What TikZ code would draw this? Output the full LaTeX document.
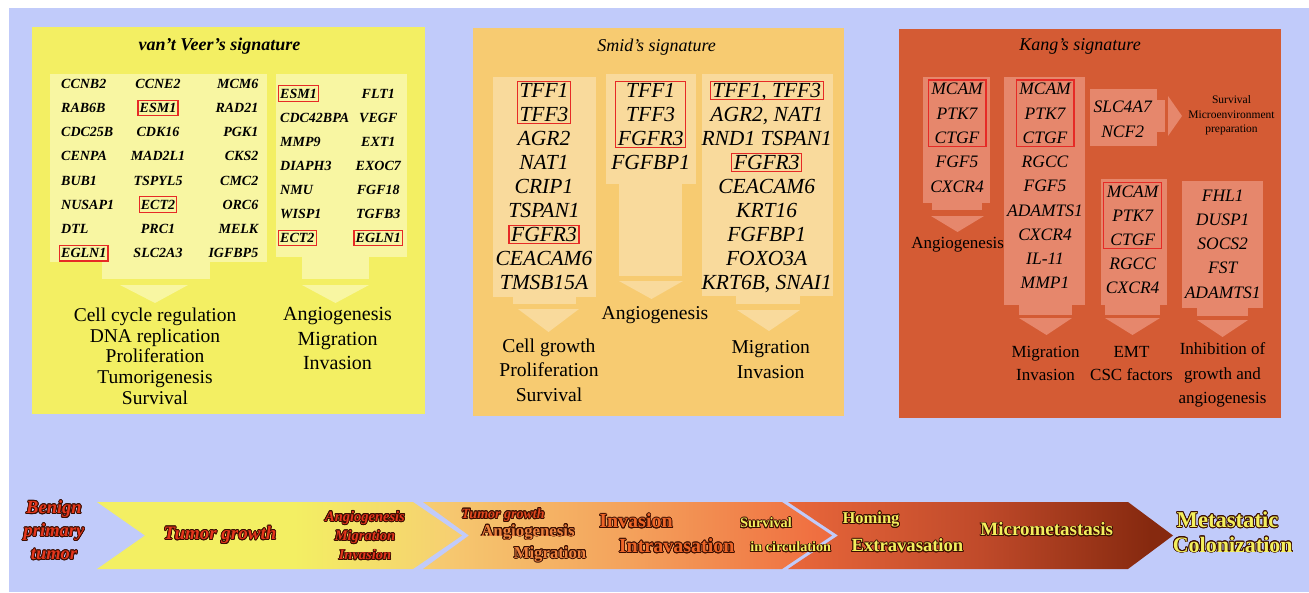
\documentclass[tikz,border=0pt]{standalone}
\usepackage{fontspec}
\setmainfont{Liberation Serif}
\usepackage{contour}
\usetikzlibrary{fit,positioning}
\contourlength{0.8pt}
\definecolor{bgblue}{HTML}{C1CBFA}
\definecolor{vvpanel}{HTML}{F3EF63}
\definecolor{vvpale}{HTML}{F8F6A2}
\definecolor{smpanel}{HTML}{F7CB71}
\definecolor{smpale}{HTML}{F9DA9C}
\definecolor{kapanel}{HTML}{D45B34}
\definecolor{kapale}{HTML}{E6876C}
\definecolor{boxred}{HTML}{E62A26}
\definecolor{tred}{HTML}{E5361C}
\definecolor{tsmall}{HTML}{E2481E}
\definecolor{torg}{HTML}{EF8440}
\definecolor{tinv}{HTML}{EE6628}
\definecolor{tyel}{HTML}{F3EF5C}
\definecolor{tdark}{HTML}{3A0E02}
\definecolor{sgA}{HTML}{F3EF63}
\definecolor{sgB}{HTML}{F6CD72}
\definecolor{sgC}{HTML}{F4A25C}
\definecolor{sgD}{HTML}{EF6B3E}
\definecolor{sgE}{HTML}{E9673B}
\definecolor{sgF}{HTML}{C04A2A}
\definecolor{sgG}{HTML}{86290F}
\pgfdeclarehorizontalshading{segone}{100bp}{color(0bp)=(sgA); color(25bp)=(sgA); color(52bp)=(sgA); color(75bp)=(sgB); color(100bp)=(sgB)}
\pgfdeclarehorizontalshading{segtwo}{100bp}{color(0bp)=(sgB); color(25bp)=(sgB); color(50bp)=(sgC); color(75bp)=(sgD); color(100bp)=(sgD)}
\pgfdeclarehorizontalshading{segthree}{100bp}{color(0bp)=(sgE); color(25bp)=(sgE); color(50bp)=(sgF); color(72bp)=(sgG); color(100bp)=(sgG)}
\newcommand{\redlbl}[1]{\textcolor{tred}{\contour{tdark}{#1}}}
\newcommand{\smalllbl}[1]{\textcolor{tsmall}{\contour{tdark}{#1}}}
\newcommand{\orglbl}[1]{\textcolor{torg}{\contour{tdark}{#1}}}
\newcommand{\invlbl}[1]{\textcolor{tinv}{\contour{tdark}{#1}}}
\newcommand{\yellbl}[1]{\textcolor{tyel}{\contour{tdark}{#1}}}

\begin{document}
\begin{tikzpicture}[x=1pt,y=-1pt,
  vvgene/.style={font=\fontsize{14}{14}\selectfont\bfseries\itshape, inner sep=0pt, text height=9.3pt, text depth=0pt},
  smgene/.style={font=\fontsize{21.5}{21.5}\selectfont\itshape, inner sep=0pt, text height=14.2pt, text depth=0pt},
  kagene/.style={font=\fontsize{17.5}{17.5}\selectfont\itshape, inner sep=0pt, text height=11.6pt, text depth=0pt},
  redbox/.style={draw=boxred, line width=1.1pt, inner xsep=2pt, inner ysep=3pt},
  title/.style={font=\fontsize{18}{18}\selectfont\itshape, inner sep=0pt},
  fun/.style={align=center, anchor=north, inner sep=0pt},
  band/.style={inner sep=0pt}]
\useasboundingbox (0,0) rectangle (1309,592);
% Background
\fill[white] (0,0) rectangle (1309,592);
\fill[bgblue] (9,8) rectangle (1309,592);
% Panels
\fill[vvpanel] (32,27) rectangle (425,414);
\fill[smpanel] (473,28) rectangle (844,416);
\fill[kapanel] (899,29) rectangle (1281,418);
% van't Veer boxes and arrows
\fill[vvpale] (50,74) rectangle (267,262);
\fill[vvpale] (102,262) rectangle (210,279);
\fill[vvpale] (120,285) -- (188,285) -- (155,303) -- cycle;
\fill[vvpale] (276,74) rectangle (407,257);
\fill[vvpale] (302,257) rectangle (369,279);
\fill[vvpale] (302,285) -- (369,285) -- (335.5,303) -- cycle;
% Smid boxes and arrows
\fill[smpale] (493,77) rectangle (596,297);
\fill[smpale] (513,297) rectangle (576,304);
\fill[smpale] (518,309) -- (579,309) -- (548.5,332) -- cycle;
\fill[smpale] (606,74) rectangle (696,184);
\fill[smpale] (619,184) rectangle (682,276);
\fill[smpale] (619,281) -- (683,281) -- (651.5,299) -- cycle;
\fill[smpale] (702,74) rectangle (833,296);
\fill[smpale] (736,296) rectangle (800,304);
\fill[smpale] (737,310) -- (800,310) -- (769,331) -- cycle;
% Kang boxes and arrows
\fill[kapale] (923,77) rectangle (990,203);
\fill[kapale] (932,203) rectangle (982,210);
\fill[kapale] (931,216) -- (984,216) -- (957.5,232) -- cycle;
\fill[kapale] (1004,77) rectangle (1085,305);
\fill[kapale] (1019,305) rectangle (1072,315);
\fill[kapale] (1019,318) -- (1072,318) -- (1046.5,335) -- cycle;
\fill[kapale] (1090,89) rectangle (1157,146);
\fill[kapale] (1157,100) rectangle (1165,132);
\fill[kapale] (1168,96) -- (1168,136) -- (1182,116) -- cycle;
\fill[kapale] (1101,179) rectangle (1167,305);
\fill[kapale] (1105,305) rectangle (1160,315);
\fill[kapale] (1105,318) -- (1160,318) -- (1132.5,335) -- cycle;
\fill[kapale] (1182,181) rectangle (1263,308);
\fill[kapale] (1197,308) rectangle (1248,316);
\fill[kapale] (1197,320) -- (1248,320) -- (1222.5,337) -- cycle;
% Titles
\node[title, font=\fontsize{18}{18}\selectfont\bfseries\itshape] (vvtitle) at (219.5,46) {van’t Veer’s signature};
\node[title] (smtitle) at (656.7,46.7) {Smid’s signature};
\node[title] (katitle) at (1080,46) {Kang’s signature};
% van't Veer genes
\foreach \g [count=\i from 0] in {CCNB2,RAB6B,CDC25B,CENPA,BUB1,NUSAP1,DTL,EGLN1}
  \node[vvgene, anchor=west] (va\i) at (61,{83.7+24.2*\i}) {\g};
\foreach \g [count=\i from 0] in {CCNE2,ESM1,CDK16,MAD2L1,TSPYL5,ECT2,PRC1,SLC2A3}
  \node[vvgene] (vb\i) at (158,{83.7+24.2*\i}) {\g};
\foreach \g [count=\i from 0] in {MCM6,RAD21,PGK1,CKS2,CMC2,ORC6,MELK,IGFBP5}
  \node[vvgene, anchor=east] (vc\i) at (258.5,{83.7+24.2*\i}) {\g};
\foreach \g [count=\i from 0] in {ESM1,CDC42BPA,MMP9,DIAPH3,NMU,WISP1,ECT2}
  \node[vvgene, anchor=west] (vd\i) at (280,{93.7+24.05*\i}) {\g};
\foreach \g [count=\i from 0] in {FLT1,VEGF,EXT1,EXOC7,FGF18,TGFB3,EGLN1}
  \node[vvgene] (ve\i) at (378.3,{93.7+24.05*\i}) {\g};
% Smid genes
\foreach \g [count=\i from 0] in {TFF1,TFF3,AGR2,NAT1,CRIP1,TSPAN1,FGFR3,CEACAM6,TMSB15A}
  \node[smgene] (sa\i) at (544,{90.5+24*\i}) {\g};
\foreach \g [count=\i from 0] in {TFF1,TFF3,FGFR3,FGFBP1}
  \node[smgene] (sb\i) at (650.7,{90.5+24*\i}) {\g};
\foreach \g [count=\i from 0] in {{TFF1, TFF3},{AGR2, NAT1},RND1 TSPAN1,FGFR3,CEACAM6,KRT16,FGFBP1,FOXO3A,{KRT6B, SNAI1}}
  \node[smgene] (sc\i) at (766.7,{90.5+24*\i}) {\g};
% Kang genes
\foreach \g [count=\i from 0] in {MCAM,PTK7,CTGF,FGF5,CXCR4}
  \node[kagene] (ka\i) at (957,{89+24.3*\i}) {\g};
\foreach \g [count=\i from 0] in {MCAM,PTK7,CTGF,RGCC,FGF5,ADAMTS1,CXCR4,IL-11,MMP1}
  \node[kagene] (kb\i) at (1045,{89+24.25*\i}) {\g};
\foreach \g [count=\i from 0] in {SLC4A7,NCF2}
  \node[kagene] (kc\i) at (1122.7,{106.2+25*\i}) {\g};
\foreach \g [count=\i from 0] in {MCAM,PTK7,CTGF,RGCC,CXCR4}
  \node[kagene] (kd\i) at (1132.7,{191.7+24.1*\i}) {\g};
\foreach \g [count=\i from 0] in {FHL1,DUSP1,SOCS2,FST,ADAMTS1}
  \node[kagene] (ke\i) at (1222.7,{195.8+24.1*\i}) {\g};
% Red frames
\node[redbox, inner xsep=1.5pt] (rva7) [fit=(va7)] {};
\node[redbox, inner xsep=1.5pt] (rvb1) [fit=(vb1)] {};
\node[redbox, inner xsep=1.5pt] (rvb5) [fit=(vb5)] {};
\node[redbox, inner xsep=1.5pt] (rvd0) [fit=(vd0)] {};
\node[redbox, inner xsep=1.5pt] (rvd6) [fit=(vd6)] {};
\node[redbox, inner xsep=1.5pt] (rve6) [fit=(ve6)] {};
\node[redbox, inner ysep=2pt] (rsa0) [fit=(sa0)(sa1)] {};
\node[redbox, inner ysep=2pt] (rsa6) [fit=(sa6)] {};
\node[redbox, inner ysep=2pt] (rsb0) [fit=(sb0)(sb2)] {};
\node[redbox, inner ysep=2pt] (rsc0) [fit=(sc0)] {};
\node[redbox, inner ysep=2pt] (rsc3) [fit=(sc3)] {};
\node[redbox, inner xsep=3pt] (rka0) [fit=(ka0)(ka2)] {};
\node[redbox, inner xsep=3pt] (rkb0) [fit=(kb0)(kb2)] {};
\node[redbox, inner xsep=3pt] (rkd0) [fit=(kd0)(kd2)] {};
% Functions
\node[fun, font=\fontsize{19.5}{20.75}\selectfont] (vvfa) at (155,307.6) {Cell cycle regulation\\DNA replication\\Proliferation\\Tumorigenesis\\Survival};
\node[fun, font=\fontsize{20}{24.2}\selectfont] (vvfb) at (337.5,307.4) {Angiogenesis\\Migration\\Invasion};
\node[fun, font=\fontsize{19.6}{24.1}\selectfont] (smfa) at (549,339) {Cell growth\\Proliferation\\Survival};
\node[fun, font=\fontsize{19.6}{24}\selectfont] (smfb) at (655,306.8) {Angiogenesis};
\node[fun, font=\fontsize{19.6}{24.4}\selectfont] (smfc) at (770.7,340.8) {Migration\\Invasion};
\node[fun, font=\fontsize{17}{23}\selectfont] (kafa) at (957.7,237.5) {Angiogenesis};
\node[fun, font=\fontsize{17}{23.3}\selectfont] (kafb) at (1045.5,346.2) {Migration\\Invasion};
\node[fun, font=\fontsize{11.5}{14.5}\selectfont] (kafc) at (1231.5,95.6) {Survival\\Microenvironment\\preparation};
\node[fun, font=\fontsize{17}{23.3}\selectfont] (kafd) at (1131.5,346.2) {EMT\\CSC factors};
\node[fun, font=\fontsize{17}{24.5}\selectfont] (kafe) at (1222.5,342.8) {Inhibition of\\growth and\\angiogenesis};
% Progression band
\shade[shading=segone] (97,502) -- (413,502) -- (462,535.5) -- (413,569) -- (97,569) -- (145,535.5) -- cycle;
\shade[shading=segtwo] (423,502) -- (782,502) -- (832,535.5) -- (782,569) -- (423,569) -- (469,535.5) -- cycle;
\shade[shading=segthree] (788,502) -- (1128,502) -- (1173,535.5) -- (1128,569) -- (788,569) -- (838,535.5) -- cycle;
% Band labels
\node[band, align=center, font=\fontsize{18.5}{23}\selectfont\bfseries\itshape] (benign) at (54,530.7) {\redlbl{Benign}\\\redlbl{primary}\\\redlbl{tumor}};
\node[band, font=\fontsize{19}{19}\selectfont\bfseries\itshape] (growth) at (220,535.5) {\redlbl{Tumor growth}};
\node[band, align=center, font=\fontsize{14.5}{19.3}\selectfont\bfseries\itshape] (early) at (365,536) {\redlbl{Angiogenesis}\\\redlbl{Migration}\\\redlbl{Invasion}};
\node[band, font=\fontsize{14}{14}\selectfont\bfseries\itshape] (growthb) at (503,515.5) {\smalllbl{Tumor growth}};
\node[band, font=\fontsize{16.8}{16.8}\selectfont\bfseries] (angio) at (528,532.5) {\orglbl{Angiogenesis}};
\node[band, font=\fontsize{16.7}{16.7}\selectfont\bfseries] (migr) at (550,554.7) {\orglbl{Migration}};
\node[band, font=\fontsize{20}{20}\selectfont\bfseries] (inva) at (636,521.3) {\invlbl{Invasion}};
\node[band, font=\fontsize{20}{20}\selectfont\bfseries] (intra) at (676.7,546.2) {\invlbl{Intravasation}};
\node[band, font=\fontsize{14.3}{14.3}\selectfont\bfseries] (surv) at (766,523.3) {\yellbl{Survival}};
\node[band, font=\fontsize{14.2}{14.2}\selectfont\bfseries] (circ) at (790.7,547.5) {\yellbl{in circulation}};
\node[band, font=\fontsize{16.5}{16.5}\selectfont\bfseries] (homing) at (871,520) {\yellbl{Homing}};
\node[band, font=\fontsize{18.6}{18.6}\selectfont\bfseries] (extra) at (907.5,545.8) {\yellbl{Extravasation}};
\node[band, font=\fontsize{19}{19}\selectfont\bfseries] (micro) at (1046.7,529.7) {\yellbl{Micrometastasis}};
\node[band, font=\fontsize{22.6}{22.6}\selectfont\bfseries] (meta) at (1227.5,520) {\yellbl{Metastatic}};
\node[band, font=\fontsize{22}{22}\selectfont\bfseries] (colon) at (1232.7,545) {\yellbl{Colonization}};
\end{tikzpicture}
\end{document}
